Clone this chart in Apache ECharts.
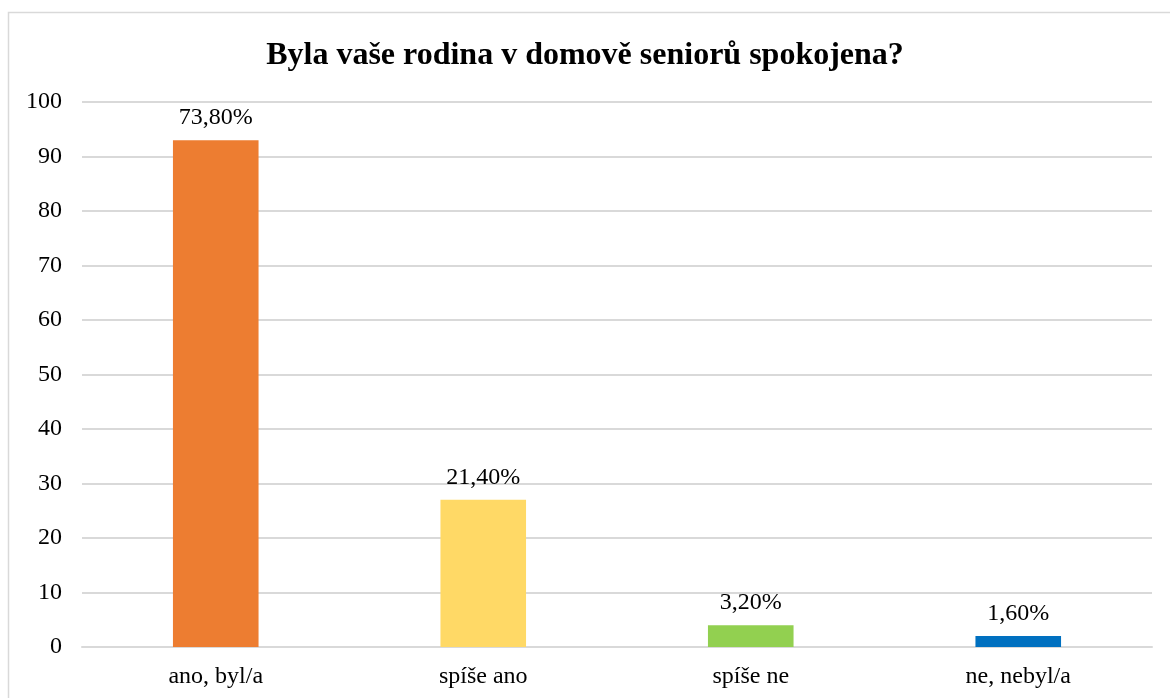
<!DOCTYPE html>
<html>
<head>
<meta charset="utf-8">
<script src="https://cdn.jsdelivr.net/npm/echarts@6/dist/echarts.min.js"></script>
<style>
  html, body { margin: 0; padding: 0; background: #fff; }
  #main { width: 1170px; height: 698px; }
</style>
</head>
<body>
<div id="main"></div>
<script>
// data
var categories = ['ano, byl/a', 'spíše ano', 'spíše ne', 'ne, nebyl/a']
var counts = [93, 27, 4, 2]
var percentLabels = ['73,80%', '21,40%', '3,20%', '1,60%']
var barColors = ['#ED7D31', '#FFD966', '#92D050', '#0070C0']

var myChart = echarts.init(document.getElementById('main'))

var option = {
  backgroundColor: '#fff',
  animation: false,
  textStyle: { fontFamily: 'Liberation Serif' },
  title: {
    text: 'Byla vaše rodina v domově seniorů spokojena?',
    left: 'center',
    top: 35,
    textStyle: { fontFamily: 'Liberation Serif', fontWeight: 'bold', fontSize: 32, color: '#000' }
  },
  graphic: [{
    type: 'rect',
    shape: { x: 8.5, y: 12.5, width: 1170, height: 700 },
    style: { fill: 'none', stroke: '#d9d9d9', lineWidth: 1.5 },
    silent: true
  }],
  grid: { left: 82, right: 18, top: 102, bottom: 51 },
  xAxis: {
    type: 'category',
    data: categories,
    axisTick: { show: false },
    axisLine: { lineStyle: { color: '#d9d9d9', width: 2 } },
    axisLabel: { color: '#000', fontSize: 24, margin: 18, fontFamily: 'Liberation Serif' }
  },
  yAxis: {
    type: 'value',
    min: 0,
    max: 100,
    interval: 10,
    axisLine: { show: false },
    axisTick: { show: false },
    axisLabel: { color: '#000', fontSize: 24, margin: 20, fontFamily: 'Liberation Serif' },
    splitLine: { lineStyle: { color: '#d9d9d9', width: 2 } }
  },
  series: [{
    type: 'bar',
    barWidth: '32%',
    data: counts.map(function (v, i) {
      return { value: v, itemStyle: { color: barColors[i] } }
    }),
    label: {
      show: true,
      position: 'top',
      distance: 10,
      color: '#000',
      fontSize: 24,
      fontFamily: 'Liberation Serif',
      formatter: function (p) { return percentLabels[p.dataIndex] }
    }
  }]
}

myChart.setOption(option)
</script>
</body>
</html>
